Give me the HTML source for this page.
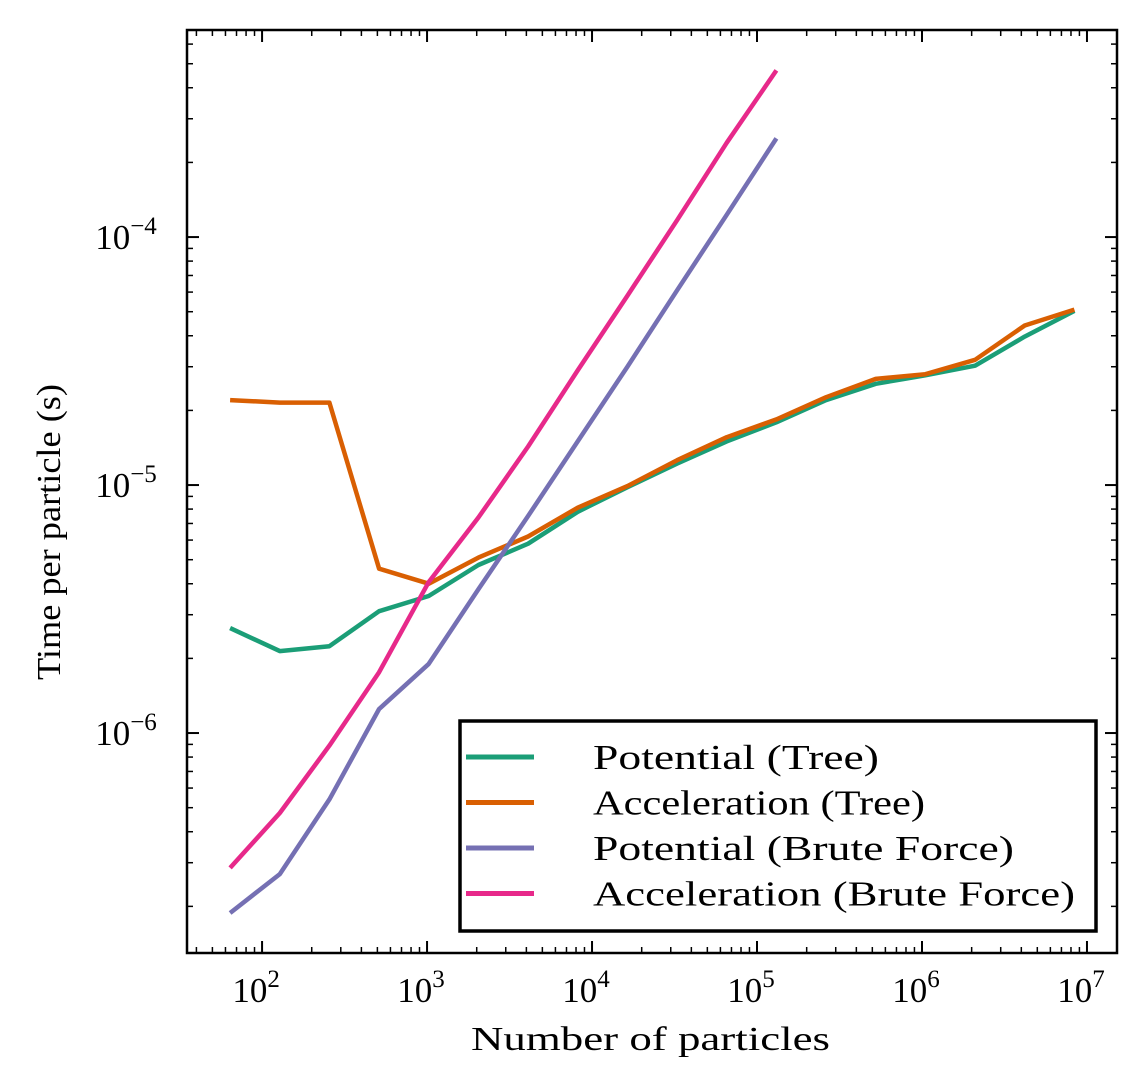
<!DOCTYPE html>
<html><head><meta charset="utf-8"><style>
body{margin:0;background:#fff}
svg{display:block;font-family:"Liberation Serif",serif}
</style></head><body>
<svg id="chart" width="1146" height="1089"></svg>
<script>
const nValues=[64,128,256,512,1024,2048,4096,8192,16384,32768,65536,131072,262144,524288,1048576,2097152,4194304,8388608];
const potTree=[2.65e-6,2.14e-6,2.24e-6,3.1e-6,3.57e-6,4.76e-6,5.8e-6,7.8e-6,9.8e-6,1.22e-5,1.5e-5,1.79e-5,2.2e-5,2.56e-5,2.77e-5,3.03e-5,3.97e-5,5.04e-5];
const accTree=[2.2e-5,2.15e-5,2.15e-5,4.6e-6,4.0e-6,5.1e-6,6.2e-6,8.1e-6,9.9e-6,1.26e-5,1.56e-5,1.84e-5,2.26e-5,2.68e-5,2.8e-5,3.2e-5,4.4e-5,5.1e-5];
const potBrute=[1.88e-7,2.7e-7,5.4e-7,1.25e-6,1.9e-6,3.8e-6,7.5e-6,1.5e-5,3.0e-5,6.1e-5,1.23e-4,2.5e-4];
const accBrute=[2.86e-7,4.76e-7,8.9e-7,1.76e-6,4.06e-6,7.4e-6,1.43e-5,2.9e-5,5.8e-5,1.17e-4,2.4e-4,4.7e-4];
const xTickExps=[2,3,4,5,6,7];
const yTickExps=[-6,-5,-4];
const seriesNames=["Potential (Tree)","Acceleration (Tree)","Potential (Brute Force)","Acceleration (Brute Force)"];

const NS="http://www.w3.org/2000/svg";
const svg=document.getElementById('chart');
const L=187,R=1117,T=30,B=953;
const xmin=1.545,xmax=7.182,ymin=-6.887,ymax=-3.165;
const xs=v=>L+(Math.log10(v)-xmin)/(xmax-xmin)*(R-L);
const ys=v=>B-(Math.log10(v)-ymin)/(ymax-ymin)*(B-T);
function el(tag,attrs,parent){const e=document.createElementNS(NS,tag);for(const k in attrs)e.setAttribute(k,attrs[k]);(parent||svg).appendChild(e);return e;}
const cp=el('clipPath',{id:'cp'});el('rect',{x:L,y:T,width:R-L,height:B-T},cp);
const tg=el('g',{stroke:'#000'});

for(let e=1;e<=7;e++){for(let m=1;m<10;m++){const v=m*Math.pow(10,e);const lx=Math.log10(v);if(lx<xmin||lx>xmax)continue;const x=xs(v);const len=m==1?12:6;el('line',{x1:x,x2:x,y1:B,y2:B-len,'stroke-width':m==1?2:1.5},tg);el('line',{x1:x,x2:x,y1:T,y2:T+len,'stroke-width':m==1?2:1.5},tg);}}
for(let e=-7;e<=-3;e++){for(let m=1;m<10;m++){const v=m*Math.pow(10,e);const ly=Math.log10(v);if(ly<ymin||ly>ymax)continue;const y=ys(v);const len=m==1?12:6;el('line',{y1:y,y2:y,x1:L,x2:L+len,'stroke-width':m==1?2:1.5},tg);el('line',{y1:y,y2:y,x1:R,x2:R-len,'stroke-width':m==1?2:1.5},tg);}}
xTickExps.forEach(e=>{const t=el('text',{x:xs(Math.pow(10,e))-6,y:1002,'font-size':35,'text-anchor':'middle'});t.innerHTML='10<tspan dy="-15" font-size="25">'+e+'</tspan>';});
yTickExps.forEach(e=>{const t=el('text',{x:126,y:ys(Math.pow(10,e))+12,'font-size':35,'text-anchor':'middle'});t.innerHTML='10<tspan dy="-15" font-size="25">−'+(-e)+'</tspan>';});
const xt=el('text',{x:471,y:1050,'font-size':34,textLength:359,lengthAdjust:'spacingAndGlyphs'});xt.textContent='Number of particles';

const yt=el('text',{x:-148,y:0,'font-size':34,textLength:296,lengthAdjust:'spacingAndGlyphs',transform:'translate(60,532) rotate(-90)'});yt.textContent='Time per particle (s)';

const colors=['#1b9e77','#d95f02','#7570b3','#e7298a'];
const data=[potTree,accTree,potBrute,accBrute];
const names=['line-potential-tree','line-acceleration-tree','line-potential-brute','line-acceleration-brute'];
data.forEach((d,i)=>{const pts=d.map((v,j)=>xs(nValues[j]).toFixed(1)+','+ys(v).toFixed(1)).join(' ');const p=el('polyline',{points:pts,fill:'none',stroke:colors[i],'stroke-width':4.5,'clip-path':'url(#cp)','stroke-linejoin':'round'});
});
el('rect',{x:L,y:T,width:R-L,height:B-T,fill:'none',stroke:'#000','stroke-width':2.5});
const lg=el('g',{});
el('rect',{x:460,y:721,width:636,height:210,fill:'#fff',stroke:'#000','stroke-width':3.5},lg);
const lens=[286,332,421,482];
seriesNames.forEach((n,i)=>{const y=757+i*45.5;el('line',{x1:466,x2:534,y1:y,y2:y,stroke:colors[i],'stroke-width':5},lg);const t=el('text',{x:593,y:y+12,'font-size':35,textLength:lens[i],lengthAdjust:'spacingAndGlyphs'},lg);t.textContent=n;
});
</script>
</body></html>
